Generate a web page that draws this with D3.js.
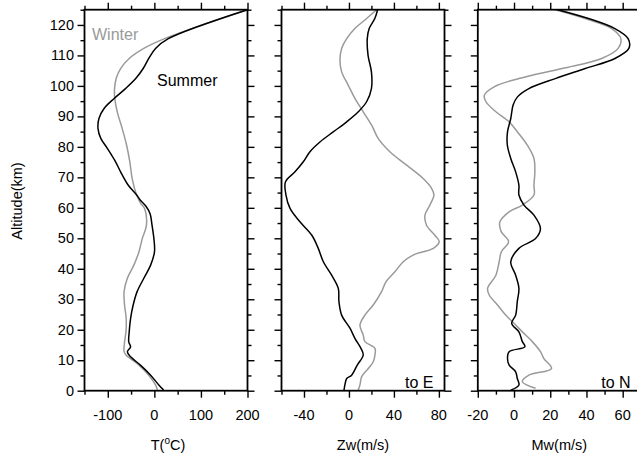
<!DOCTYPE html>
<html>
<head>
<meta charset="utf-8">
<script src="https://cdn.jsdelivr.net/npm/d3@7"></script>
<style>
  body { margin: 0; background: #fff; }
  svg text { font-family: "Liberation Sans", Arial, Helvetica, sans-serif; }
</style>
</head>
<body>
<svg id="chart"></svg>
<script>
let width = 637, height = 459;

// Temperature (deg C) vs altitude (km)
let tSummerAlt = [0.2, 1.9, 5.1, 8.4, 11.1, 12.8, 14.4, 16, 19.3, 23.7, 28.1, 32.5, 36.9, 41.2, 45.6, 49.9, 54.3, 58, 60.5, 62.5, 64.2, 67.4, 71.8, 75, 79.5, 82.8, 86, 89.3, 92.6, 95.8, 99.1, 102.4, 105.7, 109, 112.3, 115.5, 125];
let tSummerVal = [20, 9.5, -8, -30, -51, -58, -51, -55, -54, -51, -45.5, -37, -22.6, -8, 0.3, -1, -5, -9, -18, -30, -38, -56, -72.5, -83, -101, -115, -121, -119, -108, -87, -62, -40, -24, -12, 2.5, 30, 200];
let tWinterAlt = [0, 1.9, 5.1, 8.4, 11.7, 12.8, 16, 19.3, 23.7, 28.1, 32.5, 36.9, 41.2, 45.6, 49.9, 54.3, 59.8, 61.4, 64.2, 69.6, 75, 80.6, 86, 91.5, 95.8, 99.1, 102.4, 105.7, 109, 112.3, 115.5, 125];
let tWinterVal = [7, 2.5, -12, -33, -61, -65, -64, -61, -60.5, -64, -65, -58, -44, -33, -26, -17, -21, -29, -38, -47.6, -52.6, -59.7, -69, -79.7, -85, -85.5, -82, -72.5, -54, -22.6, 22, 200];

// Zonal wind (m/s)
let zwSummerAlt = [0.2, 1.9, 4, 5.1, 8.4, 11.7, 13.9, 17.2, 20.5, 24.8, 29.2, 33.6, 37.9, 42.3, 46.7, 51, 55.4, 59.8, 64.2, 68.5, 71.8, 75.1, 78.4, 81.6, 84.9, 88.2, 91.5, 94.8, 99.1, 104.6, 110, 115.5, 118.8, 122.1, 125];
let zwSummerVal = [-4.4, -3.6, -2, 2.4, 7.4, 12.7, 10.7, 5.3, 0.9, -6.5, -8.9, -9.5, -15.4, -22.8, -27.3, -33, -43.6, -52.4, -56, -56.5, -48, -40.6, -34.7, -25.8, -14, -2, 8.3, 15.7, 20, 20, 17, 16.3, 18, 23, 25.5];
let zwWinterAlt = [0, 1.9, 4.6, 7.3, 9.5, 11.7, 13.9, 16.1, 18.3, 21.5, 24.8, 28.1, 32.5, 35.7, 39, 42.3, 44.5, 46.7, 48.9, 51, 54.3, 57.6, 60.9, 64.2, 66.4, 69.6, 74, 78.4, 82.8, 87.1, 91.5, 95.9, 100.2, 104.6, 108.4, 112.3, 115.5, 118.8, 122.1, 125];
let zwWinterVal = [8, 9.8, 11.3, 17.2, 21.6, 23.1, 23.1, 14.2, 12.7, 9.8, 14.2, 21.6, 29, 32.9, 40.9, 48.3, 57, 75, 80.3, 76.4, 69, 67.6, 72, 75.6, 73.5, 66, 51.3, 36.4, 26, 20.2, 12.7, 5.3, -0.6, -6.5, -8, -6.5, -2, 5.3, 15.7, 24.6];

// Meridional wind (m/s)
let mwSummerAlt = [0.2, 1.9, 4, 6.2, 8.4, 10.6, 12.8, 14.4, 16.1, 19.3, 22.1, 24.8, 29.2, 33.6, 37.9, 42.3, 46.7, 49.9, 53.2, 57.6, 60.9, 64.2, 67.4, 71.8, 76.2, 80.6, 84.9, 89.3, 93.7, 96.4, 99.1, 102.4, 105.7, 109, 112.3, 115.5, 118.8, 122.1, 125];
let mwSummerVal = [-1.8, 2.7, 1.8, 0.9, -2.7, -3.6, -2.7, 6, 4.6, 2.7, -1.3, 0.9, 1.8, 2.7, 0.9, -1.8, 2.7, 11.9, 14.6, 11, 5.5, 2.7, 2.7, 0.9, -1.8, -3.7, -3.6, -1.8, -0.5, 1.9, 8.2, 22.8, 39.3, 55.7, 63.4, 63, 55.7, 41.1, 24];
let mwWinterAlt = [0.8, 3, 5.1, 7.3, 10.6, 12.8, 16.1, 19.3, 22.1, 24.8, 28.1, 31.4, 33.6, 37.9, 42.3, 45.6, 48.9, 52.1, 55.4, 58.7, 60.9, 64.2, 67.4, 71.8, 76.2, 80.6, 84.9, 88.2, 91.5, 94.8, 96.9, 99.7, 102.4, 105.7, 109, 112.3, 115.5, 118.8, 122.1, 125];
let mwWinterVal = [11.9, 4.6, 8.2, 20.7, 16.4, 14.6, 10.1, 4.6, 0, -4.6, -9.1, -13.7, -14.6, -10, -8.2, -7, -3, -7, -7.8, -2.7, 4.6, 11, 11, 11.5, 11, 7.3, 1.9, -2.7, -10, -15.5, -16.4, -11, 2.7, 26.5, 48.4, 57.5, 59, 53.9, 39.3, 22.8];

let altMajor = d3.range(0, 121, 10);
let altMinor = d3.range(5, 126, 10);

let panels = [
    { title: "T(", sup: "o", tail: "C)", domain: [-150, 200], major: [-100, 0, 100, 200], minor: [-150, -50, 50, 150],
      summer: [tSummerAlt, tSummerVal], winter: [tWinterAlt, tWinterVal], note: null },
    { title: "Zw(m/s)", domain: [-60, 85], major: [-40, 0, 40, 80], minor: [-60, -20, 20, 60],
      summer: [zwSummerAlt, zwSummerVal], winter: [zwWinterAlt, zwWinterVal], note: "to E" },
    { title: "Mw(m/s)", domain: [-20, 70], major: [-20, 0, 20, 40, 60], minor: [-10, 10, 30, 50, 70],
      summer: [mwSummerAlt, mwSummerVal], winter: [mwWinterAlt, mwWinterVal], note: "to N" }
];

let lefts = [84.5, 281.5, 477.8];
let panelW = 163;
let topY = 9.7, bottomY = 390.7;

let svg = d3.select("#chart")
    .attr("width", width)
    .attr("height", height);

let y = d3.scaleLinear().domain([0, 125]).range([bottomY, topY]);

panels.forEach((p, i) => {
    let x = d3.scaleLinear().domain(p.domain).range([lefts[i], lefts[i] + panelW]);
    let g = svg.append("g");

    // ticks on all four sides (outward)
    let tickAxes = [
        [() => d3.axisBottom(x), bottomY, "x"], [() => d3.axisTop(x), topY, "x"],
        [() => d3.axisLeft(y), lefts[i], "y"], [() => d3.axisRight(y), lefts[i] + panelW, "y"]
    ];
    tickAxes.forEach(([mk, pos, dir]) => {
        let isX = dir == "x";
        [[isX ? p.major : altMajor, 7], [isX ? p.minor : altMinor, 4]].forEach(([vals, len]) => {
            let ga = g.append("g")
                .attr("transform", isX ? `translate(0,${pos})` : `translate(${pos},0)`)
                .call(mk().tickValues(vals).tickSize(len).tickSizeOuter(0).tickFormat(""));
            ga.select(".domain").remove();
            ga.selectAll("line").attr("stroke", "#000").attr("stroke-width", 1.4);
        });
    });

    // bottom labels
    g.selectAll(".xl")
        .data(p.major)
        .enter().append("text")
        .attr("x", d => x(d))
        .attr("y", 420)
        .attr("text-anchor", "middle")
        .attr("font-size", 14.5)
        .text(d => d);

    // axis title
    let t = g.append("text")
        .attr("x", lefts[i] + panelW / 2 + (i == 0 ? 2 : 0))
        .attr("y", 450)
        .attr("text-anchor", "middle")
        .attr("font-size", 14.5)
        .text(p.title);
    if (p.sup) {
        t.append("tspan").attr("font-size", 10).attr("dy", -6).text(p.sup);
        t.append("tspan").attr("dy", 6).text(p.tail);
    }

    g.append("clipPath").attr("id", "clip" + i)
        .append("rect")
        .attr("x", lefts[i]).attr("y", topY)
        .attr("width", panelW).attr("height", bottomY - topY);

    let line = d3.line()
        .x(d => x(d[1]))
        .y(d => y(d[0]))
        .curve(d3.curveCatmullRom.alpha(0.5));

    let series = [[p.winter, "#9a9a9a"], [p.summer, "#000"]];
    series.forEach(([s, col]) => {
        let pts = s[0].map((a, k) => [a, s[1][k]]);
        g.append("path")
            .datum(pts)
            .attr("clip-path", `url(#clip${i})`)
            .attr("fill", "none")
            .attr("stroke", col)
            .attr("stroke-width", 1.5)
            .attr("d", line);
    });

    // frame
    g.append("rect")
        .attr("x", lefts[i]).attr("y", topY)
        .attr("width", panelW).attr("height", bottomY - topY)
        .attr("fill", "none")
        .attr("stroke", "#000")
        .attr("stroke-width", 1.8);

    if (p.note) {
        g.append("text")
            .attr("x", lefts[i] + 123.5)
            .attr("y", 388)
            .attr("font-size", 16)
            .text(p.note);
    }
});

// left altitude labels
svg.append("g").selectAll("text")
    .data(altMajor)
    .enter().append("text")
    .attr("x", 74)
    .attr("y", d => y(d) + 5)
    .attr("text-anchor", "end")
    .attr("font-size", 14.5)
    .text(d => d);

svg.append("text")
    .attr("transform", "translate(22,201) rotate(-90)")
    .attr("text-anchor", "middle")
    .attr("font-size", 14.5)
    .text("Altitude(km)");

svg.append("text")
    .attr("x", 92).attr("y", 40)
    .attr("font-size", 16)
    .attr("fill", "#9a9a9a")
    .text("Winter");

svg.append("text")
    .attr("x", 157).attr("y", 86)
    .attr("font-size", 16)
    .text("Summer");
</script>
</body>
</html>
